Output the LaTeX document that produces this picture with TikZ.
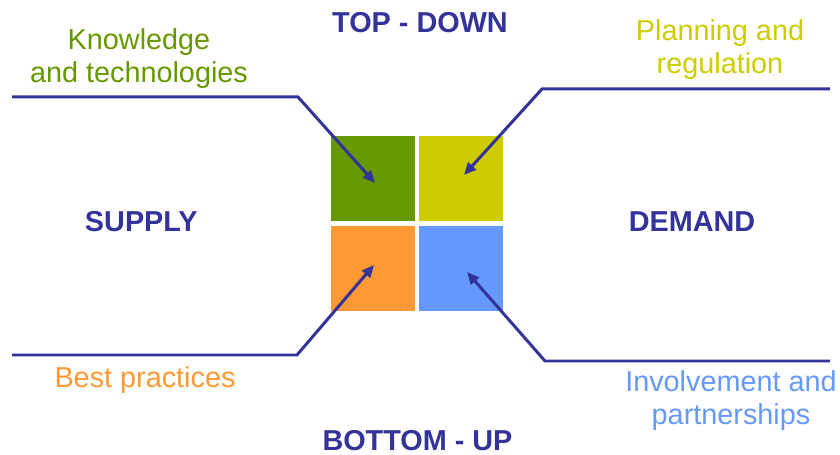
\documentclass[tikz,border=0pt]{standalone}
\usepackage{fontspec}
\setmainfont{Liberation Sans}
\usetikzlibrary{arrows.meta}
\pgfdeclarelayer{edgelayer}
\pgfdeclarelayer{nodelayer}
\pgfsetlayers{nodelayer,edgelayer,main}
\definecolor{navy}{HTML}{333399}
\definecolor{leaf}{HTML}{669900}
\definecolor{olive}{HTML}{CCCC00}
\definecolor{peach}{HTML}{FF9933}
\definecolor{sky}{HTML}{6699FF}
\tikzset{font=\fontsize{16.4}{19.3}\selectfont}
\tikzstyle{none}=[inner sep=0pt]
\tikzstyle{tile}=[inner sep=0pt,minimum width=1.68cm,minimum height=1.7cm]
\tikzstyle{title}=[inner sep=0pt,text=navy,font=\fontsize{16.4}{19.3}\selectfont\bfseries]
\tikzstyle{label}=[inner sep=0pt,align=center,anchor=base]
\tikzstyle{wire}=[draw=navy,line width=1.7pt,-{Triangle[length=7pt,width=6pt]}]
\begin{document}
\begin{tikzpicture}[x=0.02cm,y=-0.02cm]
	\useasboundingbox (0,0) rectangle (840,455);
	\begin{pgfonlayer}{nodelayer}
		\node [style=tile,fill=leaf] (0) at (373,178.5) {};
		\node [style=tile,fill=olive] (1) at (461,178.5) {};
		\node [style=tile,fill=peach] (2) at (373,268.5) {};
		\node [style=tile,fill=sky] (3) at (461,268.5) {};
		\node [style=title] (4) at (420,22.5) {TOP - DOWN};
		\node [style=title] (5) at (417.5,441) {BOTTOM - UP};
		\node [style=title] (6) at (141.3,221.5) {SUPPLY};
		\node [style=title] (7) at (692,222) {DEMAND};
		\node [style=label,text=leaf] (8) at (139,83) {Knowledge\\and technologies};
		\node [style=label,text=olive] (9) at (720,74) {Planning and\\regulation};
		\node [style=label,text=peach] (10) at (145,388) {Best practices};
		\node [style=label,text=sky] (11) at (731,425) {Involvement and\\partnerships};
	\end{pgfonlayer}
	\begin{pgfonlayer}{edgelayer}
		\coordinate (12) at (12,97);
		\coordinate (13) at (298,97);
		\coordinate (14) at (375,183);
		\coordinate (15) at (830,89);
		\coordinate (16) at (542,89);
		\coordinate (17) at (464,175);
		\coordinate (18) at (12,355);
		\coordinate (19) at (297,355);
		\coordinate (20) at (374,265);
		\coordinate (21) at (830,361);
		\coordinate (22) at (545,361);
		\coordinate (23) at (467,272);
		\draw [style=wire] (12) -- (13) -- (14);
		\draw [style=wire] (15) -- (16) -- (17);
		\draw [style=wire] (18) -- (19) -- (20);
		\draw [style=wire] (21) -- (22) -- (23);
	\end{pgfonlayer}
\end{tikzpicture}
\end{document}
